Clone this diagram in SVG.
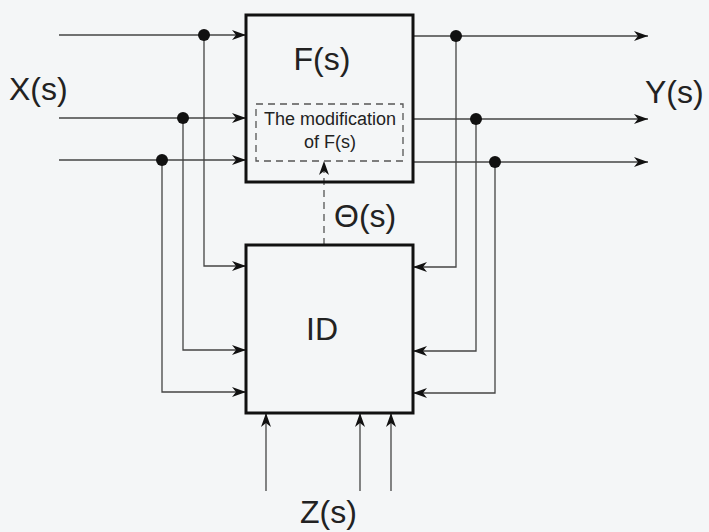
<svg xmlns="http://www.w3.org/2000/svg" width="709" height="532" viewBox="0 0 709 532">
<style>
.bg{fill:#f4f6f7}
.box{fill:none;stroke:#111;stroke-width:3}
.dbox{fill:none;stroke:#555;stroke-width:1.3;stroke-dasharray:7,5}
.ln{fill:none;stroke:#444;stroke-width:1.3}
.dl{fill:none;stroke:#555;stroke-width:1.3;stroke-dasharray:7,5}
.dot{fill:#111}
.t{font-family:"Liberation Sans",Arial,sans-serif;fill:#222}
.big{font-size:32px}
.sm{font-size:18px}
</style>
<defs>
<marker id="ah" viewBox="0 0 14 10" refX="14" refY="5" markerWidth="14" markerHeight="10" markerUnits="userSpaceOnUse" orient="auto">
<path d="M0,0 L14,5 L0,10 L4,5 Z" fill="#111"/>
</marker>
</defs>
<rect class="bg" x="0" y="0" width="709" height="532"/>
<g id="connectors">
<line class="ln" x1="59" y1="35" x2="246" y2="35" marker-end="url(#ah)"/>
<line class="ln" x1="59" y1="118" x2="246" y2="118" marker-end="url(#ah)"/>
<line class="ln" x1="59" y1="160" x2="246" y2="160" marker-end="url(#ah)"/>
<polyline class="ln" points="204,35 204,266 246,266" marker-end="url(#ah)"/>
<polyline class="ln" points="183,118 183,350 246,350" marker-end="url(#ah)"/>
<polyline class="ln" points="162,160 162,392 246,392" marker-end="url(#ah)"/>
<line class="ln" x1="413" y1="36" x2="648" y2="36" marker-end="url(#ah)"/>
<line class="ln" x1="413" y1="119" x2="648" y2="119" marker-end="url(#ah)"/>
<line class="ln" x1="413" y1="162" x2="648" y2="162" marker-end="url(#ah)"/>
<polyline class="ln" points="456,36 456,267 413,267" marker-end="url(#ah)"/>
<polyline class="ln" points="476,119 476,351 413,351" marker-end="url(#ah)"/>
<polyline class="ln" points="495,162 495,393 413,393" marker-end="url(#ah)"/>
<line class="ln" x1="266" y1="491" x2="266" y2="413" marker-end="url(#ah)"/>
<line class="ln" x1="360" y1="491" x2="360" y2="413" marker-end="url(#ah)"/>
<line class="ln" x1="391" y1="491" x2="391" y2="413" marker-end="url(#ah)"/>
<line class="dl" x1="324" y1="245" x2="324" y2="161" marker-end="url(#ah)"/>
<circle class="dot" cx="204" cy="35" r="6"/>
<circle class="dot" cx="183" cy="118" r="6"/>
<circle class="dot" cx="162" cy="160" r="6"/>
<circle class="dot" cx="456" cy="36" r="6"/>
<circle class="dot" cx="476" cy="119" r="6"/>
<circle class="dot" cx="495" cy="162" r="6"/>
</g>
<g id="F">
<rect class="box" x="246" y="15" width="167" height="167"/>
<text class="t big" x="322" y="70" text-anchor="middle">F(s)</text>
</g>
<g id="modification">
<rect class="dbox" x="256" y="104" width="147" height="57"/>
<text class="t sm" x="330" y="125" text-anchor="middle">The modification</text>
<text class="t sm" x="330" y="148" text-anchor="middle">of F(s)</text>
</g>
<g id="ID">
<rect class="box" x="246" y="245" width="167" height="168"/>
<text class="t big" x="322" y="340" text-anchor="middle">ID</text>
</g>
<g id="labels">
<text class="t big" x="9" y="100">X(s)</text>
<text class="t big" x="645" y="103">Y(s)</text>
<text class="t big" x="334" y="227">Θ(s)</text>
<text class="t big" x="300" y="523">Z(s)</text>
</g>
</svg>
